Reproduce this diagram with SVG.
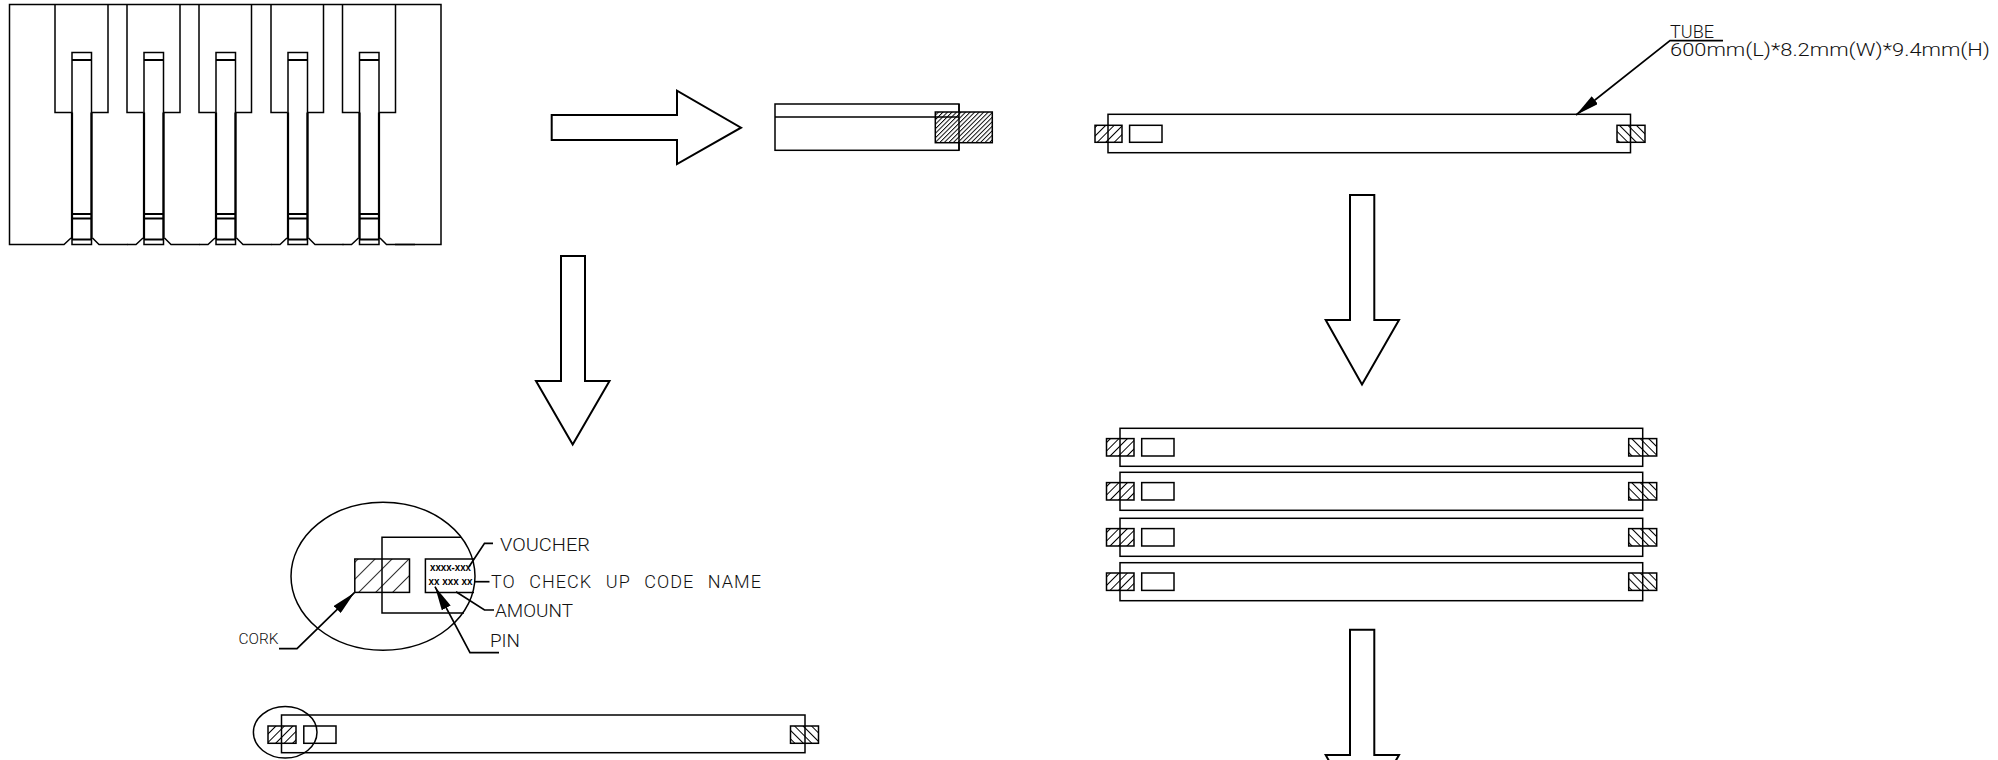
<svg xmlns="http://www.w3.org/2000/svg" xmlns:xlink="http://www.w3.org/1999/xlink" width="1998" height="760" viewBox="0 0 1998 760">
<style>
.s{fill:none;stroke:#000;stroke-width:1.5}
.w{fill:#fff;stroke:#000;stroke-width:2}
.t{font-family:Roboto,"Liberation Sans",Arial,sans-serif;font-weight:300;fill:#111;font-size:18px}
.b{font-size:19px}
.x{font-family:"Liberation Sans",Arial,sans-serif;fill:#000;font-size:10px;font-weight:bold}
.ld{fill:none;stroke:#000;stroke-width:1.7}
</style>
<defs>
<pattern id="hL" width="6" height="6" patternUnits="userSpaceOnUse" patternTransform="rotate(45)"><rect width="6" height="6" fill="#fff"/><path d="M0 0V6" stroke="#000" stroke-width="2"/></pattern>
<pattern id="hR" width="6" height="6" patternUnits="userSpaceOnUse" patternTransform="rotate(-45)"><rect width="6" height="6" fill="#fff"/><path d="M0 0V6" stroke="#000" stroke-width="2"/></pattern>
<pattern id="hF" width="3.2" height="3.2" patternUnits="userSpaceOnUse" patternTransform="rotate(45)"><rect width="3.2" height="3.2" fill="#fff"/><path d="M0 0V3.2" stroke="#000" stroke-width="1.9"/></pattern>
<pattern id="hB" width="12" height="12" patternUnits="userSpaceOnUse" patternTransform="rotate(45)"><path d="M0 0V12" stroke="#000" stroke-width="1.6"/></pattern>
<marker id="ah" viewBox="0 0 24 10" refX="24" refY="5" markerWidth="24" markerHeight="10" markerUnits="userSpaceOnUse" orient="auto"><path d="M0 0L24 5L0 10Z" fill="#000"/></marker>
<g id="pin">
<path class="s" d="M72 52.5H91.5V244.5H72Z"/>
<path class="s" style="stroke-width:2.2" d="M72 60H91.5M72 214H91.5M72 218.5H91.5M72 239.5H91.5M72 112.5V239M91.5 112.5V239"/>
<path class="s" d="M55 244.5H64L71 238M92.5 238L99 244.5H127.5"/>
</g>
<g id="row">
<rect class="s" x="1120" y="0" width="522.7" height="38"/>
<rect class="s" x="1106.5" y="10.3" width="27.5" height="17.4" style="fill:url(#hL)"/>
<rect class="s" x="1141.7" y="10.3" width="32.3" height="17.4"/>
<rect class="s" x="1628.7" y="10.3" width="28" height="17.4" style="fill:url(#hR)"/>
<path class="s" d="M1120 10.3V27.7M1642.7 10.3V27.7"/>
</g>
</defs>

<g id="panel">
<path class="s" d="M55 4.5H9.5V244.5H55M55 4.5V112.5H72M91.5 112.5H108V4.5M127 4.5V112.5H143.5M163 112.5H180V4.5M199 4.5V112.5H215.5M235 112.5H251.5V4.5M271 4.5V112.5H287.5M307 112.5H323.5V4.5M342.5 4.5V112.5H359.5M379 112.5H395.5V4.5M55 4.5H441V244.5H395"/>
<use xlink:href="#pin"/>
<use xlink:href="#pin" transform="translate(72 0)"/>
<use xlink:href="#pin" transform="translate(144 0)"/>
<use xlink:href="#pin" transform="translate(216 0)"/>
<use xlink:href="#pin" transform="translate(287.5 0)"/>
</g>

<g id="tube-end">
<rect class="s" x="775" y="104" width="184" height="46.3"/>
<rect class="s" x="935.3" y="112" width="57" height="30.7" style="fill:url(#hF)"/>
<path class="s" d="M775 117H959M959 104V150.3"/>
</g>

<g id="tube-single">
<rect class="s" x="1108" y="114.3" width="522.5" height="38.4"/>
<rect class="s" x="1095" y="125.3" width="27" height="17" style="fill:url(#hL)"/>
<rect class="s" x="1129.6" y="125.3" width="32.4" height="17"/>
<rect class="s" x="1617" y="125.3" width="28" height="17" style="fill:url(#hR)"/>
<path class="s" d="M1108 125.3V142.3M1630.5 125.3V142.3"/>
<text class="t b" x="1670" y="38" textLength="44" lengthAdjust="spacingAndGlyphs">TUBE</text>
<text class="t b" x="1670" y="56.2" textLength="320" lengthAdjust="spacingAndGlyphs">600mm(L)*8.2mm(W)*9.4mm(H)</text>
</g>

<g id="tube-stack">
<use xlink:href="#row" transform="translate(0 428.3)"/>
<use xlink:href="#row" transform="translate(0 472.3)"/>
<use xlink:href="#row" transform="translate(0 518.3)"/>
<use xlink:href="#row" transform="translate(0 562.7)"/>
</g>

<g id="tube-labelled">
<rect class="s" x="281.5" y="715" width="523.5" height="37.7"/>
<rect class="s" x="268" y="726" width="28" height="17.3" style="fill:url(#hL)"/>
<rect class="s" x="303.8" y="726" width="32.2" height="17.3"/>
<rect class="s" x="790.5" y="726" width="28" height="17.3" style="fill:url(#hR)"/>
<path class="s" d="M281.5 726V743.3M805 726V743.3"/>
<ellipse class="s" cx="285.2" cy="732.3" rx="31.8" ry="25.7"/>
</g>

<g id="detail">
<ellipse class="s" cx="383" cy="576.2" rx="92" ry="74"/>
<path class="s" d="M461 537.2H382V613H464"/>
<rect class="s" x="354.8" y="559" width="54.7" height="33.4" style="fill:url(#hB)"/>
<path class="s" d="M474 559H425.4V592.4H474"/>
<text class="x" x="430" y="571" textLength="41" lengthAdjust="spacingAndGlyphs">xxxx-xxx</text>
<text class="x" x="428.6" y="585" textLength="44" lengthAdjust="spacingAndGlyphs">xx xxx xx</text>
<text class="t" x="500" y="551" textLength="90" lengthAdjust="spacingAndGlyphs">VOUCHER</text>
<text class="t" x="491" y="588" textLength="270" lengthAdjust="spacing" style="word-spacing:8px">TO CHECK UP CODE NAME</text>
<text class="t" x="495" y="617" textLength="78" lengthAdjust="spacingAndGlyphs">AMOUNT</text>
<text class="t" x="490" y="647" textLength="30" lengthAdjust="spacingAndGlyphs">PIN</text>
<text class="t" style="font-size:15px" x="238.5" y="644" textLength="40" lengthAdjust="spacingAndGlyphs">CORK</text>
</g>

<g id="connectors">
<path class="w" d="M551.7 115H677V90.7L741 127.7L677 164V140H551.7Z"/>
<path class="w" d="M1350 195H1374.3V320H1399L1362 384.5L1325.7 320H1350Z"/>
<path class="w" d="M1350 629.7H1374.3V755H1399L1362 820L1325.7 755H1350Z"/>
<path class="w" d="M561 256H585V381H609.5L572.7 444.6L536 381H561Z"/>
<path class="ld" d="M1723 40.7H1670L1576 115" marker-end="url(#ah)"/>
<path class="ld" d="M279 648.7H297L354.4 592.7" marker-end="url(#ah)"/>
<path class="ld" d="M499 652.7H470L435 586.7" marker-end="url(#ah)"/>
<path class="ld" d="M469 566.7L484.5 543.3H493"/>
<path class="ld" d="M475 581.7H489.5"/>
<path class="ld" d="M456 591.7L484.5 610H494"/>
</g>
</svg>
